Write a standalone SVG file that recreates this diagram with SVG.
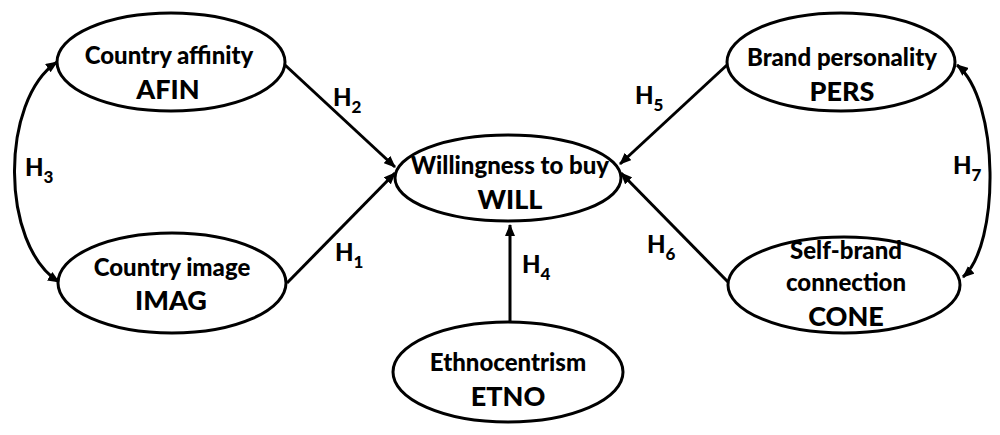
<svg xmlns="http://www.w3.org/2000/svg" width="1000" height="435" viewBox="0 0 1000 435">
<defs>
<marker id="ah" viewBox="0 0 12 10" refX="11" refY="5" markerWidth="12" markerHeight="10" markerUnits="userSpaceOnUse" orient="auto-start-reverse">
<path d="M0,0 L12,5 L0,10 Z" fill="#000"/>
</marker>
<style>
.n{fill:#fff;stroke:#000;stroke-width:3}
.t{font-family:Lato,"Open Sans","Liberation Sans",sans-serif;font-weight:900;font-size:24px;text-anchor:middle;fill:#000}
.c{font-size:27px}
.h{font-family:Lato,"Open Sans","Liberation Sans",sans-serif;font-weight:900;font-size:24px;fill:#000}
.s{font-size:17px}
.e{fill:none;stroke:#000;stroke-width:3;marker-end:url(#ah)}
.b{marker-start:url(#ah)}
</style>
</defs>
<rect width="1000" height="435" fill="#fff"/>
<g id="connectors">
<path class="e" d="M285,65 L395,167"/>
<path class="e" d="M287,283 L395,173"/>
<path class="e" d="M727,65 L620,164"/>
<path class="e" d="M729,283 L621,173"/>
<path class="e" d="M510,322 L510,225"/>
<path class="e b" d="M57,62 C0,100 0,245 59,282"/>
<path class="e b" d="M957,65 C1000,100 1000,245 963,277"/>
<text class="h" x="333" y="106">H<tspan class="s" dy="7">2</tspan></text>
<text class="h" x="335" y="261">H<tspan class="s" dy="7">1</tspan></text>
<text class="h" x="25" y="176">H<tspan class="s" dy="7">3</tspan></text>
<text class="h" x="522" y="273">H<tspan class="s" dy="7">4</tspan></text>
<text class="h" x="635" y="104">H<tspan class="s" dy="7">5</tspan></text>
<text class="h" x="647" y="253">H<tspan class="s" dy="7">6</tspan></text>
<text class="h" x="953" y="174">H<tspan class="s" dy="7">7</tspan></text>
</g>
<g id="afin">
<ellipse class="n" cx="171" cy="62" rx="114" ry="49"/>
<text class="t" x="169" y="64">Country affinity</text>
<text class="t c" x="168" y="99">AFIN</text>
</g>
<g id="imag">
<ellipse class="n" cx="172" cy="283" rx="114" ry="50"/>
<text class="t" x="172" y="276">Country image</text>
<text class="t c" x="171" y="310">IMAG</text>
</g>
<g id="will">
<ellipse class="n" cx="508" cy="178" rx="113" ry="43"/>
<text class="t" x="510" y="174">Willingness to buy</text>
<text class="t c" x="510" y="209">WILL</text>
</g>
<g id="etno">
<ellipse class="n" cx="508" cy="372" rx="115" ry="50"/>
<text class="t" x="508" y="371">Ethnocentrism</text>
<text class="t c" x="508" y="406">ETNO</text>
</g>
<g id="pers">
<ellipse class="n" cx="841" cy="62" rx="114" ry="49"/>
<text class="t" x="842" y="66">Brand personality</text>
<text class="t c" x="842" y="101">PERS</text>
</g>
<g id="cone">
<ellipse class="n" cx="844" cy="285" rx="116" ry="48"/>
<text class="t" x="846" y="259">Self-brand</text>
<text class="t" x="846" y="291">connection</text>
<text class="t c" x="846" y="326">CONE</text>
</g>
</svg>
